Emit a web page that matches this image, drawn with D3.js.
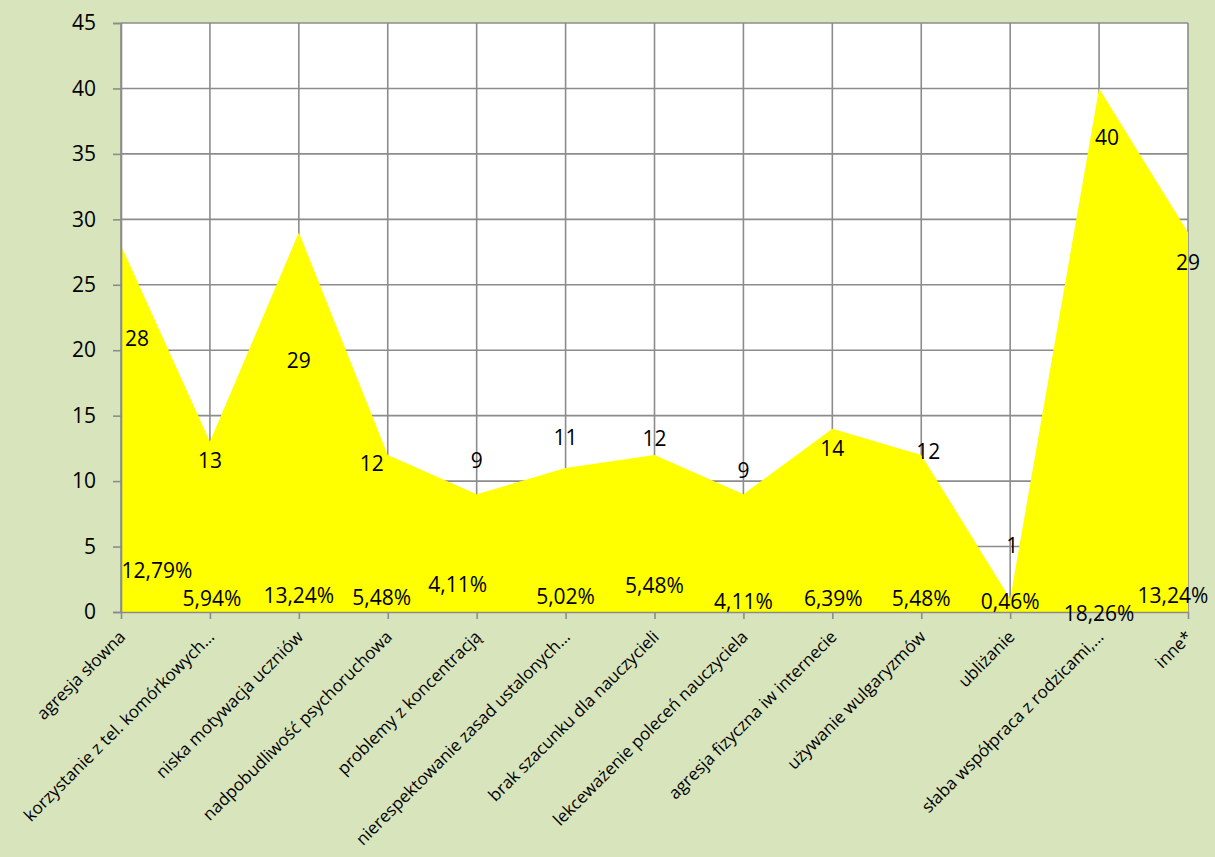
<!DOCTYPE html>
<html>
<head>
<meta charset="utf-8">
<script src="https://cdn.jsdelivr.net/npm/d3@7/dist/d3.min.js"></script>
<style>
  html, body { margin: 0; padding: 0; background: #d8e4bc; }
  svg { display: block; }
  text { font-family: "Open Sans", Lato, "Noto Sans", sans-serif; fill: #000; }
</style>
</head>
<body>
<svg id="chart" width="1215" height="857"></svg>
<script>
// Categories (problem types) and number of reports for each
const categories = [
  "agresja słowna",
  "korzystanie z tel. komórkowych…",
  "niska motywacja uczniów",
  "nadpobudliwość psychoruchowa",
  "problemy z koncentracją",
  "nierespektowanie zasad ustalonych…",
  "brak szacunku dla nauczycieli",
  "lekceważenie poleceń nauczyciela",
  "agresja fizyczna iw internecie",
  "używanie wulgaryzmów",
  "ubliżanie",
  "słaba współpraca z rodzicami,…",
  "inne*"
];
const counts = [28, 13, 29, 12, 9, 11, 12, 9, 14, 12, 1, 40, 29];
const yTicks = [0, 5, 10, 15, 20, 25, 30, 35, 40, 45];

// Label nudges in pixels (dx, dy) relative to the point / baseline
const countLabelNudge = [[16, 92], [0, 18], [0, 128], [-16, 8], [0, -34], [0, -31], [0, -17], [0, -24], [0, 19], [7, -4], [2, -54], [8, 49], [0, 30]];
const shareLabelNudge = [[36, -42], [2, -14], [0, -17], [-6, -15], [-19, -28], [0, -16], [0, -27], [0, -11], [1, -14], [0, -14], [0, -11], [0, 1], [-15, -17]];

const margin = { left: 121, right: 27, top: 23, bottom: 245 };
const W = 1215, H = 857;
const svg = d3.select("#chart");

const x = d3.scalePoint().domain(categories).range([margin.left, W - margin.right]);
const y = d3.scaleLinear().domain([0, 45]).range([H - margin.bottom, margin.top]);

const gridColor = "#8c8c8c";

// plot background
svg.append("rect")
  .attr("x", margin.left).attr("y", margin.top)
  .attr("width", W - margin.left - margin.right)
  .attr("height", y(0) - margin.top)
  .attr("fill", "#fff");

// grid
const grid = svg.append("g");
grid.selectAll("line.h").data(yTicks).join("line")
  .attr("x1", margin.left).attr("x2", W - margin.right)
  .attr("y1", d => y(d)).attr("y2", d => y(d))
  .attr("stroke", gridColor).attr("stroke-width", 1.6);
grid.selectAll("line.v").data(categories).join("line")
  .attr("x1", d => x(d)).attr("x2", d => x(d))
  .attr("y1", margin.top).attr("y2", y(0))
  .attr("stroke", gridColor).attr("stroke-width", 1.6);

// area
const area = d3.area()
  .x((d, i) => x(categories[i]))
  .y0(y(0))
  .y1(d => y(d));
svg.append("path").datum(counts)
  .attr("d", area)
  .attr("fill", "#ffff00");

// y axis
const yAxis = svg.append("g")
  .attr("transform", `translate(${margin.left},0)`)
  .call(d3.axisLeft(y).tickValues(yTicks).tickSize(8).tickPadding(17));
yAxis.select(".domain").attr("stroke", gridColor).attr("stroke-width", 1.6);
yAxis.selectAll(".tick line").attr("stroke", gridColor).attr("stroke-width", 1.6);
yAxis.selectAll(".tick text").style("font-size", "21px").attr("fill", "#000");

// x axis
const xAxis = svg.append("g")
  .attr("transform", `translate(0,${y(0)})`)
  .call(d3.axisBottom(x).tickSize(7).tickSizeOuter(0));
xAxis.select(".domain").attr("stroke", gridColor).attr("stroke-width", 1.6);
xAxis.selectAll(".tick line").attr("stroke", gridColor).attr("stroke-width", 1.6);
xAxis.selectAll(".tick text")
  .style("font-size", "17px")
  .attr("fill", "#000")
  .attr("text-anchor", "end")
  .attr("dy", null).attr("y", 0)
  .attr("transform", "translate(5,26) rotate(-45)");

// value labels
const total = d3.sum(counts);
const fmtShare = v => (v / total * 100).toFixed(2).replace(".", ",") + "%";

svg.append("g").selectAll("text").data(counts).join("text")
  .attr("x", (d, i) => x(categories[i]) + countLabelNudge[i][0])
  .attr("y", (d, i) => y(d) + countLabelNudge[i][1])
  .attr("text-anchor", "middle")
  .attr("dominant-baseline", "central")
  .style("font-size", "21px")
  .text(d => d);

svg.append("g").selectAll("text").data(counts).join("text")
  .attr("x", (d, i) => x(categories[i]) + shareLabelNudge[i][0])
  .attr("y", (d, i) => y(0) + shareLabelNudge[i][1])
  .attr("text-anchor", "middle")
  .attr("dominant-baseline", "central")
  .style("font-size", "21px")
  .text(d => fmtShare(d));
</script>
</body>
</html>
